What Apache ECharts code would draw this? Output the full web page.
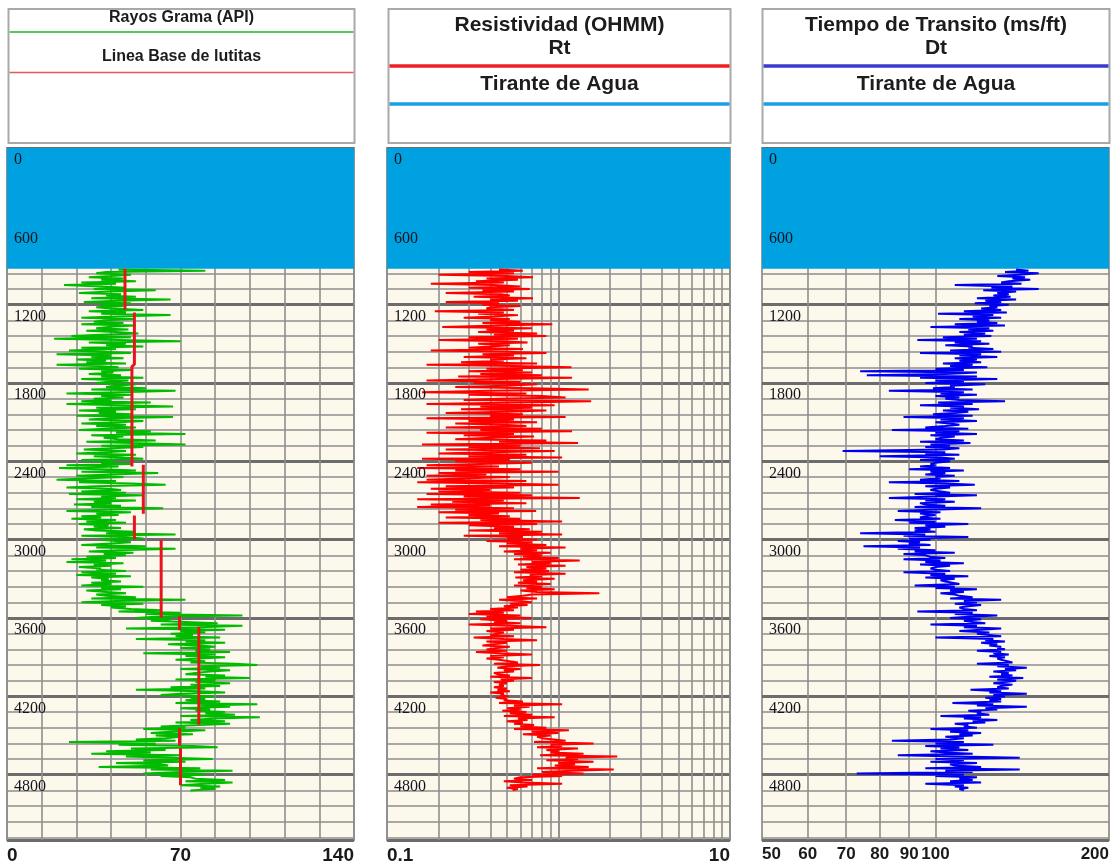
<!DOCTYPE html>
<html>
<head>
<meta charset="utf-8">
<script src="https://cdn.jsdelivr.net/npm/echarts@6/dist/echarts.min.js"></script>
<style>
  html, body { margin: 0; padding: 0; background: #ffffff; }
  #chart { width: 1115px; height: 867px; }
</style>
</head>
<body>
<div id="chart"></div>
<script>
// Log sampling (ft): first sample and spacing
const DEPTH_TOP = 930;
const DEPTH_STEP = 10;
const DEPTH_MAX = 5300;
// Tirante de agua (ft)
const WATER_DEPTH = 925;

// Rayos gamma (API), one row per 100 ft starting at 930 ft
const gammaRay = [
  45, 80, 40, 36, 50, 42, 33, 47, 38, 52,
  30, 44, 23, 38, 48, 35, 60, 42, 29, 46,
  40, 52, 34, 66, 45, 31, 50, 38, 47, 36,
  42, 55, 33, 48, 38, 66, 44, 30, 51, 40,
  35, 47, 30, 52, 41, 36, 49, 32, 44, 53,
  38, 26, 50, 19, 45, 70, 33, 48, 40, 55,
  30, 44, 25, 39, 50, 20, 42, 34, 47, 28,
  40, 32, 48, 20, 36, 45, 29, 50, 38, 43,
  33, 46, 38, 55, 30, 49, 41, 36, 52, 44,
  40, 56, 34, 68, 45, 24, 50, 38, 47, 35,
  42, 30, 58, 24, 46, 67, 36, 52, 29, 44,
  37, 50, 28, 67, 41, 33, 55, 45, 30, 48,
  36, 52, 40, 29, 58, 44, 72, 34, 47, 39,
  45, 60, 32, 50, 72, 38, 55, 42, 31, 48,
  40, 28, 52, 35, 46, 55, 30, 43, 38, 50,
  24, 45, 21, 38, 52, 30, 61, 42, 28, 47,
  33, 20, 44, 29, 50, 64, 36, 24, 41, 46,
  30, 48, 25, 55, 38, 44, 28, 52, 35, 42,
  27, 46, 34, 63, 40, 24, 50, 36, 45, 30,
  38, 26, 44, 32, 48, 29, 41, 35, 46, 31,
  36, 52, 40, 68, 30, 47, 55, 38, 44, 50,
  42, 30, 56, 36, 68, 45, 33, 51, 39, 48,
  32, 44, 26, 40, 24, 47, 35, 42, 29, 38,
  36, 48, 30, 44, 28, 50, 34, 41, 38, 46,
  34, 42, 30, 55, 38, 46, 32, 40, 48, 36,
  40, 52, 34, 72, 44, 30, 55, 38, 48, 42,
  50, 62, 45, 70, 56, 95, 60, 52, 66, 58,
  72, 85, 62, 95, 78, 48, 88, 70, 80, 66,
  75, 68, 86, 52, 80, 72, 88, 65, 78, 84,
  70, 82, 76, 90, 55, 84, 72, 88, 78, 68,
  80, 74, 92, 101, 78, 86, 70, 90, 82, 76,
  72, 88, 80, 98, 68, 84, 76, 90, 74, 86,
  66, 80, 52, 78, 88, 70, 62, 84, 74, 80,
  72, 86, 68, 101, 78, 90, 70, 82, 76, 88,
  80, 92, 70, 102, 84, 74, 88, 68, 90, 78,
  62, 72, 55, 80, 66, 58, 75, 60, 70, 64,
  52, 68, 25, 60, 45, 75, 85, 50, 64, 40,
  58, 34, 70, 48, 66, 83, 55, 72, 44, 62,
  65, 37, 78, 58, 91, 70, 55, 80, 62, 74,
  76, 88, 72, 91, 80, 70, 86, 78, 84, 74
];

// Resistividad Rt (ohm-m)
const resistivity = [
  0.45, 0.62, 0.30, 0.55, 0.20, 0.50, 0.71, 0.38, 0.58, 0.33,
  0.48, 0.18, 0.42, 0.60, 0.30, 0.68, 0.36, 0.55, 0.22, 0.46,
  0.52, 0.32, 0.71, 0.40, 0.58, 0.22, 0.45, 0.36, 0.60, 0.40,
  0.38, 0.55, 0.19, 0.48, 0.34, 0.58, 0.42, 0.28, 0.52, 0.40,
  0.60, 0.36, 0.92, 0.45, 0.21, 0.70, 0.38, 0.55, 0.34, 0.75,
  0.42, 0.85, 0.30, 0.58, 0.20, 0.48, 0.66, 0.34, 0.52, 0.40,
  0.30, 0.62, 0.18, 0.50, 0.85, 0.36, 0.55, 0.28, 0.65, 0.40,
  0.48, 0.27, 0.75, 0.17, 0.55, 1.19, 0.38, 0.62, 0.30, 0.70,
  0.35, 0.80, 0.26, 1.20, 0.45, 0.17, 0.60, 0.32, 0.75, 0.50,
  0.25, 0.70, 1.50, 0.40, 0.16, 0.65, 0.30, 0.80, 1.10, 0.45,
  0.28, 1.55, 0.60, 0.17, 0.95, 0.35, 0.70, 0.27, 0.85, 0.50,
  0.22, 0.62, 0.40, 1.10, 0.17, 0.55, 0.30, 0.75, 0.25, 0.48,
  0.65, 0.22, 0.80, 0.35, 1.20, 0.17, 0.55, 0.28, 0.72, 0.40,
  0.25, 0.85, 0.45, 1.30, 0.16, 0.60, 0.30, 0.78, 0.22, 0.95,
  0.40, 0.20, 0.65, 0.30, 1.05, 0.16, 0.52, 0.25, 0.70, 0.35,
  0.17, 0.45, 0.15, 0.60, 0.25, 1.00, 0.20, 0.38, 0.17, 0.52,
  0.30, 0.17, 0.65, 0.15, 0.45, 1.00, 0.22, 0.55, 0.18, 0.40,
  0.20, 0.60, 0.17, 0.70, 0.28, 1.33, 0.15, 0.48, 0.24, 0.65,
  0.18, 0.40, 0.15, 0.55, 0.25, 0.74, 0.20, 0.45, 0.30, 0.52,
  0.22, 0.60, 0.35, 1.05, 0.20, 0.75, 0.30, 0.55, 0.42, 0.68,
  0.30, 0.80, 0.45, 1.05, 0.28, 0.62, 0.50, 0.75, 0.38, 0.70,
  0.50, 0.85, 0.45, 1.10, 0.60, 0.75, 0.48, 0.90, 0.55, 0.80,
  0.62, 1.00, 0.55, 1.33, 0.70, 0.90, 0.58, 1.10, 0.65, 0.85,
  0.60, 0.88, 0.55, 1.10, 0.68, 0.80, 0.56, 0.95, 0.62, 0.75,
  0.58, 0.90, 0.55, 0.80, 0.65, 0.95, 0.60, 0.75, 1.73, 0.70,
  0.62, 0.50, 0.75, 0.45, 0.60, 0.70, 0.52, 0.66, 0.48, 0.58,
  0.40, 0.55, 0.33, 0.48, 0.30, 0.60, 0.38, 0.70, 0.35, 0.50,
  0.42, 0.60, 0.30, 0.52, 0.85, 0.40, 0.55, 0.38, 0.48, 0.44,
  0.40, 0.55, 0.32, 0.48, 0.75, 0.38, 0.50, 0.42, 0.36, 0.52,
  0.44, 0.38, 0.50, 0.33, 0.46, 0.70, 0.40, 0.48, 0.38, 0.45,
  0.46, 0.58, 0.42, 0.78, 0.50, 0.44, 0.60, 0.48, 0.55, 0.42,
  0.44, 0.52, 0.40, 0.70, 0.46, 0.55, 0.42, 0.50, 0.45, 0.48,
  0.42, 0.50, 0.44, 0.52, 0.40, 0.48, 0.46, 0.51, 0.43, 0.50,
  0.48, 0.62, 0.45, 1.05, 0.55, 0.68, 0.50, 0.60, 0.47, 0.65,
  0.52, 0.70, 0.48, 0.95, 0.58, 0.66, 0.50, 0.62, 0.55, 0.72,
  0.60, 0.85, 0.55, 1.15, 0.70, 1.00, 0.62, 0.90, 0.75, 0.80,
  0.80, 1.10, 0.72, 1.60, 0.90, 1.05, 0.75, 1.30, 0.85, 1.00,
  0.90, 1.40, 0.78, 2.20, 1.10, 1.30, 0.85, 1.60, 1.00, 1.25,
  0.95, 1.50, 0.75, 2.10, 1.20, 0.80, 1.40, 0.70, 1.05, 0.60,
  0.55, 0.70, 0.48, 0.62, 1.05, 0.52, 0.66, 0.50, 0.58, 0.54
];

// Tiempo de transito Dt (ms/ft)
const transitTime = [
  138, 145, 132, 151, 140, 128, 143, 136, 146, 134,
  130, 141, 108, 136, 125, 151, 121, 138, 128, 134,
  126, 135, 118, 138, 122, 130, 117, 134, 124, 128,
  120, 130, 112, 133, 101, 126, 116, 130, 110, 124,
  118, 128, 108, 132, 98, 124, 114, 126, 110, 122,
  112, 125, 103, 118, 93, 120, 108, 124, 104, 116,
  114, 126, 106, 130, 94, 120, 110, 128, 108, 118,
  110, 120, 103, 116, 106, 123, 100, 112, 74, 118,
  104, 76, 118, 94, 128, 100, 112, 96, 122, 106,
  108, 99, 116, 83, 112, 102, 118, 100, 110, 104,
  110, 132, 101, 116, 94, 112, 106, 119, 103, 114,
  108, 99, 116, 88, 112, 102, 118, 100, 106, 110,
  104, 96, 114, 84, 110, 100, 118, 98, 108, 102,
  100, 112, 94, 115, 98, 106, 96, 110, 103, 69,
  104, 96, 110, 80, 102, 108, 94, 106, 100, 98,
  100, 94, 106, 90, 112, 98, 104, 96, 108, 100,
  102, 94, 110, 83, 104, 117, 96, 106, 100, 98,
  98, 106, 92, 118, 100, 83, 104, 96, 108, 94,
  96, 104, 92, 120, 98, 86, 102, 94, 100, 96,
  94, 102, 85, 100, 90, 114, 96, 104, 92, 98,
  92, 100, 74, 96, 88, 114, 90, 98, 86, 94,
  90, 98, 75, 94, 86, 100, 92, 108, 88, 96,
  98, 104, 88, 102, 96, 112, 94, 106, 100, 98,
  100, 106, 88, 104, 98, 114, 96, 108, 102, 104,
  104, 110, 92, 108, 100, 118, 106, 112, 102, 108,
  110, 116, 106, 130, 112, 118, 108, 120, 114, 110,
  112, 118, 93, 116, 108, 128, 114, 106, 120, 112,
  116, 122, 98, 118, 112, 130, 120, 110, 124, 118,
  124, 130, 100, 126, 122, 132, 120, 128, 124, 130,
  128, 132, 118, 130, 126, 134, 124, 132, 128, 130,
  130, 136, 118, 134, 128, 144, 132, 138, 126, 134,
  130, 136, 124, 142, 128, 138, 132, 126, 136, 130,
  128, 134, 115, 130, 124, 144, 126, 132, 122, 130,
  124, 130, 107, 126, 118, 144, 122, 128, 114, 120,
  118, 124, 102, 120, 112, 128, 116, 122, 108, 114,
  112, 118, 98, 114, 106, 120, 110, 116, 104, 112,
  106, 84, 112, 100, 126, 96, 110, 102, 114, 98,
  104, 116, 86, 110, 140, 100, 112, 98, 118, 106,
  108, 120, 96, 140, 104, 116, 73, 112, 100, 118,
  110, 116, 106, 120, 96, 112, 108, 114, 110, 112
];

// Linea base de lutitas: runs of [API, depth ft]
const shaleBaseline = [
  [[47.6, 925], [47.6, 1238]],
  [[51.4, 1259], [51.4, 1656], [50.4, 1675], [50.4, 2439]],
  [[55.0, 2426], [55.0, 2801]],
  [[51.4, 2815], [51.4, 2997]],
  [[62.2, 3002], [62.2, 3598]],
  [[69.6, 3587], [69.6, 3694]],
  [[77.4, 3667], [77.4, 4418]],
  [[69.6, 4445], [69.6, 4579]],
  [[70.0, 4598], [70.0, 4880]]
];

// Scale labels and grid divisions
const gammaLabels = [0, 70, 140];
const rtLabels = [0.1, 10];
const dtLabels = [50, 60, 70, 80, 90, 100, 200];
const rtGridValues = [0.2, 0.3, 0.4, 0.5, 0.6, 0.7, 0.8, 0.9, 1, 2, 3, 4, 5, 6, 7, 8, 9];
const dtGridValues = [60, 70, 80, 90, 100];

const GRID_COLOR = '#8e8e8e';
const MAJOR_COLOR = '#6c6c6c';
const TRACK_BG = '#fcf8ec';
const WATER_COLOR = '#00a1e1';
const LABEL_FONT = 'Liberation Sans';
const CURVE_WIDTH = 2;

function toDepthPairs(values) {
  return values.map((v, i) => [v, DEPTH_TOP + i * DEPTH_STEP]);
}

function baselineData(runs) {
  const out = [];
  runs.forEach((run, k) => {
    if (k > 0) out.push(null);
    run.forEach(p => out.push([p[0], p[1]]));
  });
  return out;
}

const tracks = [
  { left: 7, width: 347 },
  { left: 387, width: 343 },
  { left: 762, width: 347 }
];

const grids = tracks.map(t => ({
  left: t.left, width: t.width, top: 148, height: 692,
  show: true, backgroundColor: TRACK_BG, borderColor: '#9c9c9c', borderWidth: 2
}));

const bottomLabel = {
  color: '#1a1a1a', fontFamily: LABEL_FONT, fontWeight: 'bold', fontSize: 19, margin: 6
};

function near(a, b) { return Math.abs(a - b) < 1e-6 * Math.max(1, Math.abs(b)); }

const xAxes = [
  {
    type: 'value', gridIndex: 0, min: 0, max: 140, interval: 14,
    axisLine: { show: false }, axisTick: { show: false },
    splitLine: { show: true, lineStyle: { color: GRID_COLOR, width: 1.6 } },
    axisLabel: Object.assign({}, bottomLabel, {
      alignMinLabel: 'left', alignMaxLabel: 'right',
      formatter: v => gammaLabels.some(l => near(v, l)) ? String(v) : ''
    })
  },
  {
    type: 'log', logBase: 10, gridIndex: 1, min: 0.1, max: 10,
    axisLine: { show: false }, axisTick: { show: false },
    splitLine: { show: true, lineStyle: { color: GRID_COLOR, width: 1.6 } },
    axisLabel: Object.assign({}, bottomLabel, {
      alignMinLabel: 'left', alignMaxLabel: 'right',
      formatter: v => {
        const hit = rtLabels.find(l => near(v, l));
        return hit === undefined ? '' : String(hit);
      }
    })
  },
  {
    type: 'log', logBase: 2, gridIndex: 2, min: 50, max: 200,
    axisLine: { show: false }, axisTick: { show: false },
    splitLine: { show: false },
    axisLabel: Object.assign({}, bottomLabel, {
      fontSize: 17,
      customValues: dtLabels,
      alignMinLabel: 'left', alignMaxLabel: 'right',
      formatter: v => String(Math.round(v))
    })
  }
];

const yAxes = [];
tracks.forEach((t, g) => {
  const base = { type: 'value', gridIndex: g, position: 'left', inverse: true, min: 0, max: DEPTH_MAX,
    axisLine: { show: false }, axisTick: { show: false } };
  // minor depth lines every 120 ft
  yAxes.push(Object.assign({}, base, {
    interval: 120, axisLabel: { show: false },
    splitLine: { show: true, lineStyle: { color: GRID_COLOR, width: 1.6 } }
  }));
  // major depth lines every 600 ft
  yAxes.push(Object.assign({}, base, {
    interval: 600, axisLabel: { show: false },
    splitLine: { show: true, lineStyle: { color: MAJOR_COLOR, width: 3 } }
  }));
  // depth annotations, drawn above the water band
  yAxes.push(Object.assign({}, base, {
    interval: 600, z: 4, splitLine: { show: false },
    axisLabel: {
      inside: true, margin: 7, verticalAlign: 'top', padding: [4, 0, 0, 0],
      color: '#14141c', fontFamily: 'Liberation Serif', fontSize: 16,
      showMaxLabel: false,
      formatter: v => (v % 600 === 0 && v <= 4800) ? String(v) : ''
    }
  }));
});

function waterBand() {
  return {
    silent: true, z: 1,
    itemStyle: { color: WATER_COLOR },
    label: { show: false },
    data: [[{ yAxis: 0 }, { yAxis: WATER_DEPTH }]]
  };
}

function verticalGrid(values) {
  return {
    silent: true, z: 0.5, symbol: 'none', animation: false,
    label: { show: false },
    lineStyle: { color: GRID_COLOR, width: 1.6, type: 'solid' },
    data: values.map(v => ({ xAxis: v }))
  };
}

const series = [
  {
    name: 'Rayos Grama (API)', type: 'line', xAxisIndex: 0, yAxisIndex: 0,
    data: toDepthPairs(gammaRay), showSymbol: false, z: 2,
    lineStyle: { color: '#00bb00', width: CURVE_WIDTH },
    markArea: waterBand()
  },
  {
    name: 'Linea Base de lutitas', type: 'line', xAxisIndex: 0, yAxisIndex: 0,
    data: baselineData(shaleBaseline), showSymbol: false, z: 3, connectNulls: false,
    lineStyle: { color: '#e8141c', width: 3 }
  },
  {
    name: 'Rt', type: 'line', xAxisIndex: 1, yAxisIndex: 3,
    data: toDepthPairs(resistivity), showSymbol: false, z: 2,
    lineStyle: { color: '#ff0000', width: CURVE_WIDTH },
    markArea: waterBand(),
    markLine: verticalGrid(rtGridValues)
  },
  {
    name: 'Dt', type: 'line', xAxisIndex: 2, yAxisIndex: 6,
    data: toDepthPairs(transitTime), showSymbol: false, z: 2,
    lineStyle: { color: '#0000f0', width: CURVE_WIDTH },
    markArea: waterBand(),
    markLine: verticalGrid(dtGridValues)
  }
];

// Track headers
function headerBox(x, w) {
  return { type: 'rect', shape: { x: x, y: 9, width: w, height: 134 },
    style: { fill: '#ffffff', stroke: '#a9a9a9', lineWidth: 2 }, z: 10 };
}
function headerLine(x, w, y, color, lw) {
  return { type: 'line', shape: { x1: x + 1, y1: y, x2: x + w - 1, y2: y },
    style: { stroke: color, lineWidth: lw }, z: 11 };
}
function headerText(cx, y, text, size) {
  return { type: 'text', x: cx, y: y, z: 12,
    style: { text: text, fill: '#1c1c1c', font: 'bold ' + size + 'px "Liberation Sans", Arial, sans-serif',
      textAlign: 'center', textVerticalAlign: 'middle' } };
}

const graphic = [
  headerBox(8.5, 346),
  headerLine(8.5, 346, 32, '#52cc52', 2),
  headerLine(8.5, 346, 72.5, '#e45a5a', 1.5),
  headerText(181.5, 18, 'Rayos Grama (API)', 16),
  headerText(181.5, 57, 'Linea Base de lutitas', 16),

  headerBox(388.5, 342),
  headerLine(388.5, 342, 66, '#ee1f25', 3.5),
  headerLine(388.5, 342, 104, '#1aa0e4', 3.5),
  headerText(559.5, 25, 'Resistividad (OHMM)', 21),
  headerText(559.5, 48, 'Rt', 21),
  headerText(559.5, 84, 'Tirante de Agua', 21),

  headerBox(762.5, 347),
  headerLine(762.5, 347, 66, '#3a3acf', 3.5),
  headerLine(762.5, 347, 104, '#1aa0e4', 3.5),
  headerText(936, 25, 'Tiempo de Transito (ms/ft)', 21),
  headerText(936, 48, 'Dt', 21),
  headerText(936, 84, 'Tirante de Agua', 21)
];

const chart = echarts.init(document.getElementById('chart'), null, { renderer: 'canvas' });
chart.setOption({
  animation: false,
  backgroundColor: '#ffffff',
  grid: grids,
  xAxis: xAxes,
  yAxis: yAxes,
  series: series,
  graphic: graphic
});
</script>
</body>
</html>
